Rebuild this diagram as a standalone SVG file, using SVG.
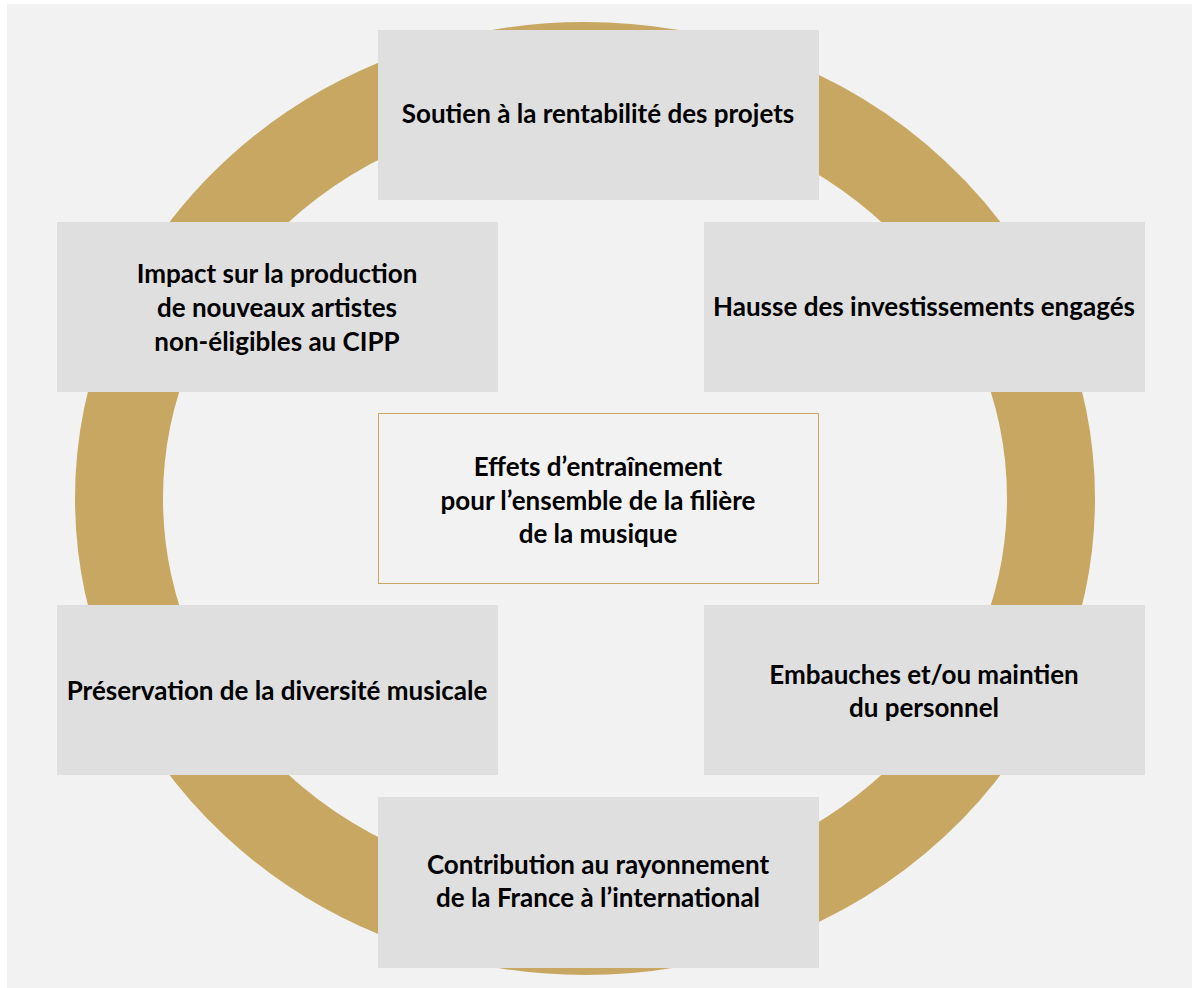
<svg xmlns="http://www.w3.org/2000/svg" width="1192" height="988" viewBox="0 0 1192 988">
<style>
.box{fill:#dfdfdf}
.t{font-family:Lato,"Open Sans","Liberation Sans",sans-serif;font-weight:bold;font-size:26px;fill:#000;text-anchor:middle}
</style>
<rect x="0" y="0" width="1192" height="988" fill="#ffffff"/>
<rect x="7" y="4" width="1185" height="984" fill="#f2f2f2"/>
<g id="connectors">
<ellipse cx="585" cy="498.5" rx="466" ry="432.5" fill="none" stroke="#c8a762" stroke-width="88"/>
</g>
<g id="n-top"><rect class="box" x="378" y="30" width="441" height="170"/><text class="t" x="598" y="123">Soutien à la rentabilité des projets</text></g>
<g id="n-right-top"><rect class="box" x="704" y="222" width="441" height="170"/><text class="t" x="924" y="316">Hausse des investissements engagés</text></g>
<g id="n-left-top"><rect class="box" x="57" y="222" width="441" height="170"/><text class="t" x="277" y="283">Impact sur la production</text><text class="t" x="277" y="317">de nouveaux artistes</text><text class="t" x="277" y="351">non-éligibles au CIPP</text></g>
<g id="n-center"><rect x="378.5" y="413.5" width="440" height="170" fill="#f2f2f2" stroke="#c8a762" stroke-width="1"/><text class="t" x="598" y="476">Effets d’entraînement</text><text class="t" x="598" y="510">pour l’ensemble de la filière</text><text class="t" x="598" y="543">de la musique</text></g>
<g id="n-left-bottom"><rect class="box" x="57" y="605" width="441" height="170"/><text class="t" x="277" y="700">Préservation de la diversité musicale</text></g>
<g id="n-right-bottom"><rect class="box" x="704" y="605" width="441" height="170"/><text class="t" x="924" y="684">Embauches et/ou maintien</text><text class="t" x="924" y="717">du personnel</text></g>
<g id="n-bottom"><rect class="box" x="378" y="797" width="441" height="171"/><text class="t" x="598" y="874">Contribution au rayonnement</text><text class="t" x="598" y="907">de la France à l’international</text></g>
</svg>
